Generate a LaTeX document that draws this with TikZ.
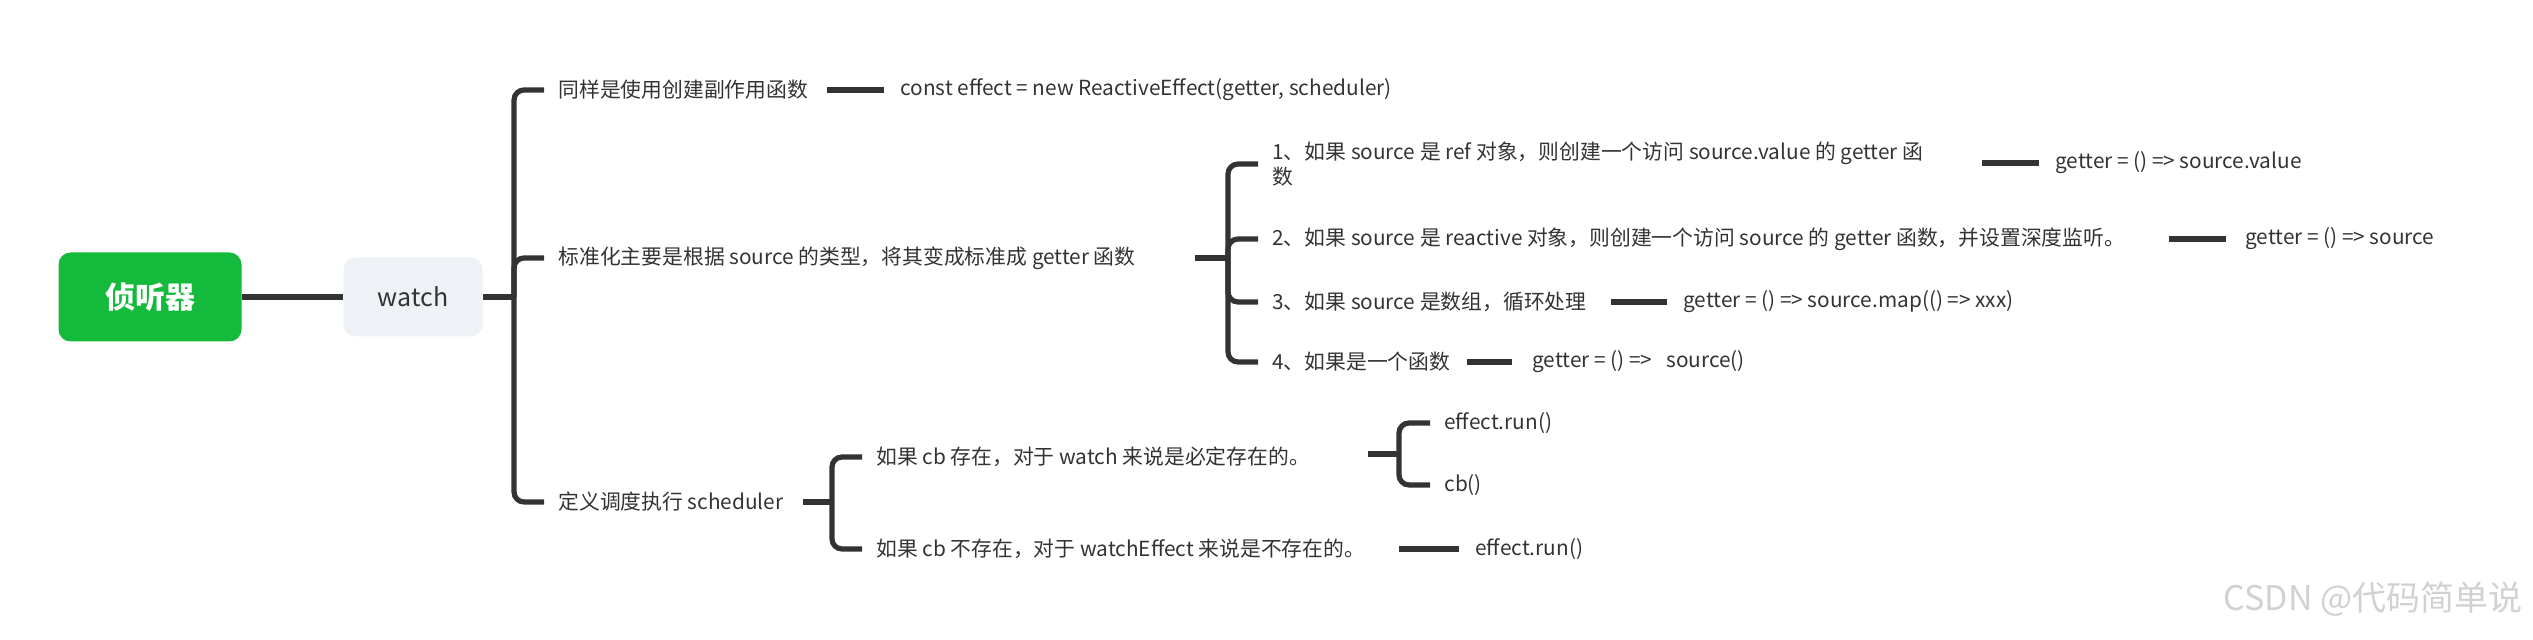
\documentclass[tikz,border=0pt]{standalone}
\usepackage{fontspec}
\setmainfont{Noto Sans CJK SC}
\definecolor{ln}{HTML}{333333}
\definecolor{grn}{HTML}{14BA3B}
\definecolor{wbg}{HTML}{EEF1F5}
\begin{document}
\begin{tikzpicture}[x=0.5pt,y=-0.5pt,
  t/.style={anchor=west,inner xsep=7pt*0.5*2,inner ysep=0pt,font=\fontsize{10.4}{12.5}\selectfont,text=ln},
  c/.style={line width=2.6pt,draw=ln,rounded corners=5pt},
  l/.style={line width=2.6pt,draw=ln}]
\useasboundingbox (0,0) rectangle (2533,640);
\node[fill=grn,rounded corners=6pt,minimum width=91.5pt,minimum height=44.5pt,text=white,font=\fontsize{15}{18}\bfseries\selectfont] (root) at (150,297) {侦听器};
\node[fill=wbg,rounded corners=6pt,minimum width=69.5pt,minimum height=39.5pt,text=ln,font=\fontsize{12.5}{14}\selectfont] (w) at (413,297) {watch};
\draw[l] (root.east) -- (w.west);
% level 2
\node[t] (a1) at (544,90) {同样是使用创建副作用函数};
\node[t] (a2) at (544,258) {标准化主要是根据 source 的类型，将其变成标准成 getter 函数};
\node[t] (a3) at (544,502) {定义调度执行 scheduler};
\coordinate (b1) at (514,297);
\draw[l] (w.east) -- (b1);
\foreach \n in {a1,a2,a3} \draw[c] (b1) |- (\n.west);
% branch 1
\node[t] (a1v) at (886,90) {const effect = new ReactiveEffect(getter, scheduler)};
\draw[l] (827,90) -- (884,90);
% branch 2
\coordinate (b2) at (1228,258);
\draw[l] (1195,258) -- (b2);
\node[t,align=left] (i1) at (1258,164) {1、如果 source 是 ref 对象，则创建一个访问 source.value 的 getter 函\\数};
\node[t] (i2) at (1258,239) {2、如果 source 是 reactive 对象，则创建一个访问 source 的 getter 函数，并设置深度监听。};
\node[t] (i3) at (1258,302) {3、如果 source 是数组，循环处理};
\node[t] (i4) at (1258,362) {4、如果是一个函数};
\foreach \n in {i1,i2,i3,i4} \draw[c] (b2) |- (\n.west);
\node[t] (v1) at (2041,163) {getter = () => source.value};
\node[t] (v2) at (2231,239) {getter = () => source};
\node[t] (v3) at (1669,302) {getter = () => source.map(() => xxx)};
\node[t] (v4) at (1518,362) {getter = () =>\ \ \ source()};
\draw[l] (1467,362) -- (1512,362);
\draw[l] (1982,163) -- (2039,163);
\draw[l] (2169,239) -- (2226,239);
\draw[l] (1611,302) -- (1667,302);
% branch 3
\coordinate (b3) at (832,502);
\draw[l] (803,502) -- (b3);
\node[t] (s1) at (862,457) {如果 cb 存在，对于 watch 来说是必定存在的。};
\node[t] (s2) at (862,549) {如果 cb 不存在，对于 watchEffect 来说是不存在的。};
\foreach \n in {s1,s2} \draw[c] (b3) |- (\n.west);
\coordinate (b4) at (1399,454);
\draw[l] (1368,454) -- (b4);
\node[t] (e1) at (1430,423) {effect.run()};
\node[t] (e2) at (1430,485) {cb()};
\foreach \n in {e1,e2} \draw[c] (b4) |- (\n.west);
\node[t] (e3) at (1461,549) {effect.run()};
\draw[l] (1399,549) -- (1459,549);
\node[anchor=east,inner sep=0pt,text=black!18,font=\fontsize{17}{20}\selectfont] (wm) at (2523,599) {CSDN @代码简单说};
\end{tikzpicture}
\end{document}
